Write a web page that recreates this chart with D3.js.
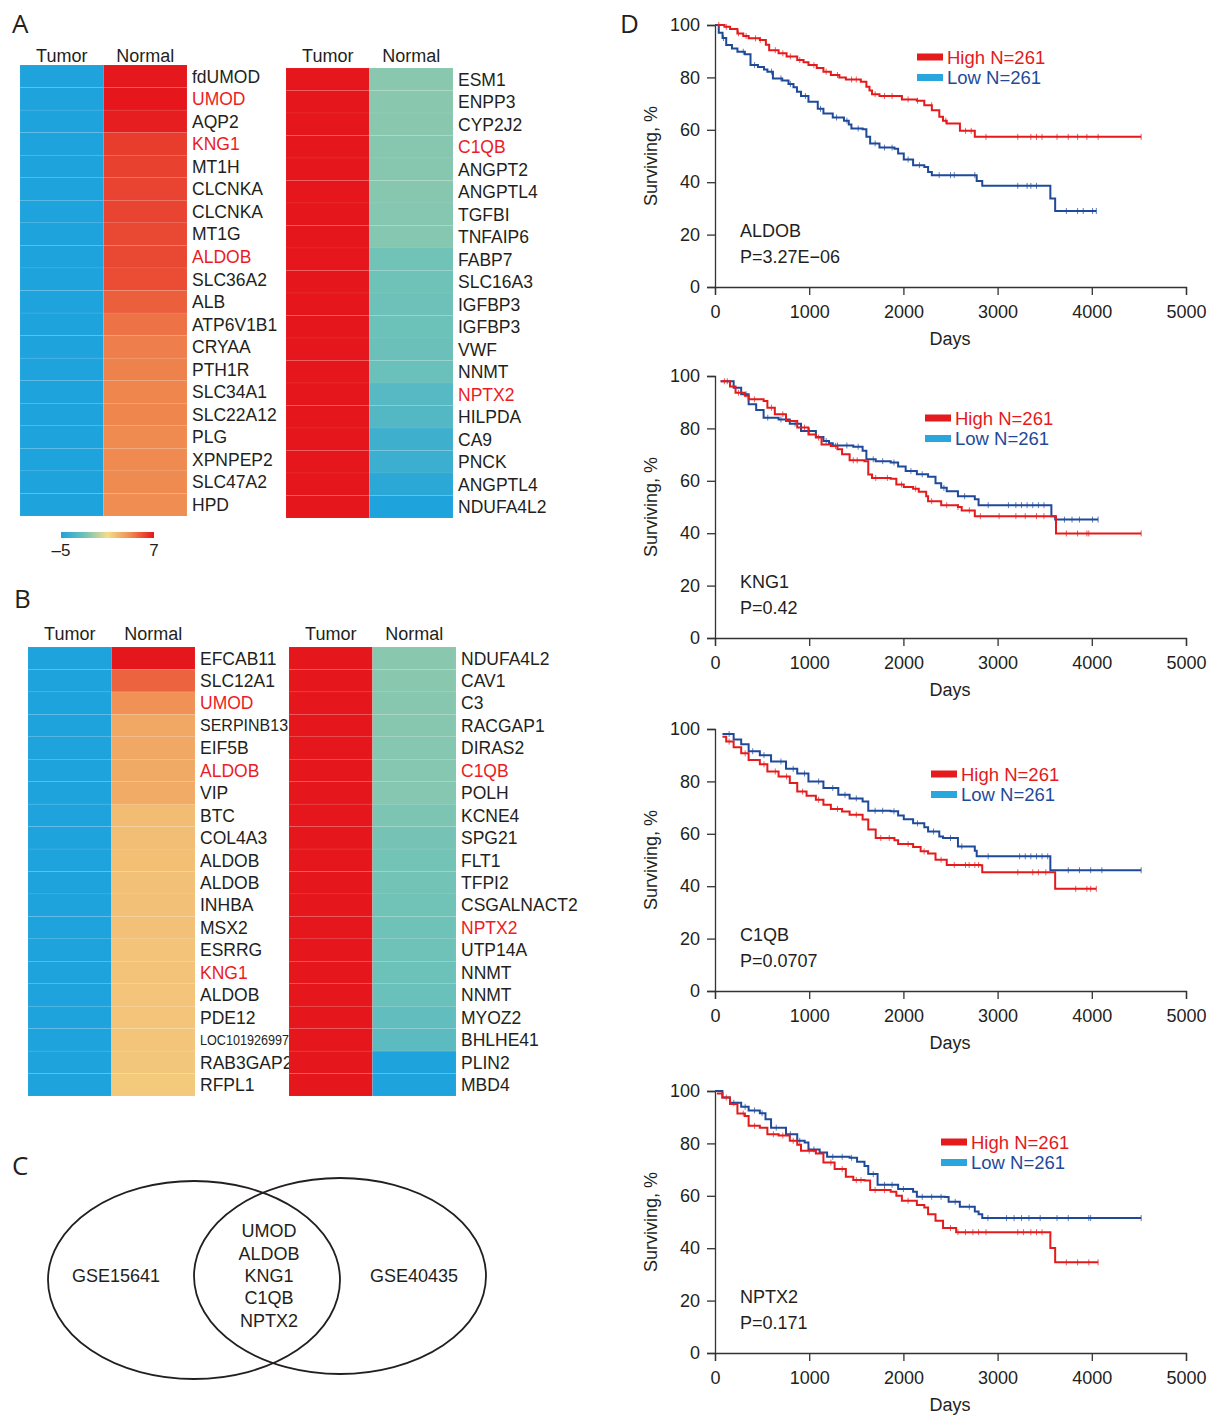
<!DOCTYPE html>
<html>
<head>
<meta charset="utf-8">
<script src="https://cdn.jsdelivr.net/npm/d3@7"></script>
<style>
  body { margin: 0; background: #fff; }
  svg { display: block; font-family: 'Liberation Sans', Arial, Helvetica, sans-serif; }
</style>
</head>
<body>
<svg id="fig" width="1215" height="1415"></svg>
<script>
// ---- heatmap data (log expression, colour scale -5..7) ----
const genesA1 = ['fdUMOD','UMOD','AQP2','KNG1','MT1H','CLCNKA','CLCNKA','MT1G','ALDOB','SLC36A2','ALB','ATP6V1B1','CRYAA','PTH1R','SLC34A1','SLC22A12','PLG','XPNPEP2','SLC47A2','HPD'];
const hiA1 = [1, 3, 8];
const tumorA1 = [-5,-5,-5,-5,-5,-5,-5,-5,-5,-5,-5,-5,-5,-5,-5,-5,-5,-5,-5,-5];
const normalA1 = [6.95,7,6.8,6.0,5.9,5.8,5.8,5.7,5.7,5.6,5.1,4.6,4.3,4.2,4.1,4.1,4.0,4.0,4.0,3.9];

const genesA2 = ['ESM1','ENPP3','CYP2J2','C1QB','ANGPT2','ANGPTL4','TGFBI','TNFAIP6','FABP7','SLC16A3','IGFBP3','IGFBP3','VWF','NNMT','NPTX2','HILPDA','CA9','PNCK','ANGPTL4','NDUFA4L2'];
const hiA2 = [3, 14];
const tumorA2 = [7,7,7,7,7,7,7,7,7,7,7,7,7,7,7,7,7,7,7,7];
const normalA2 = [-1.4,-1.4,-1.4,-1.45,-1.45,-1.45,-1.5,-1.5,-1.95,-2.0,-2.05,-2.1,-2.15,-2.2,-2.9,-3.0,-3.8,-3.9,-4.5,-5];

const genesB1 = ['EFCAB11','SLC12A1','UMOD','SERPINB13','EIF5B','ALDOB','VIP','BTC','COL4A3','ALDOB','ALDOB','INHBA','MSX2','ESRRG','KNG1','ALDOB','PDE12','LOC101926997','RAB3GAP2','RFPL1'];
const hiB1 = [2, 5, 14];
const tumorB1 = [-5,-5,-5,-5,-5,-5,-5,-5,-5,-5,-5,-5,-5,-5,-5,-5,-5,-5,-5,-5];
const normalB1 = [7,5.0,3.7,2.9,2.9,2.85,2.8,2.2,2.15,2.1,2.05,2.0,2.0,1.95,1.95,1.9,1.9,1.85,1.8,1.7];

const genesB2 = ['NDUFA4L2','CAV1','C3','RACGAP1','DIRAS2','C1QB','POLH','KCNE4','SPG21','FLT1','TFPI2','CSGALNACT2','NPTX2','UTP14A','NNMT','NNMT','MYOZ2','BHLHE41','PLIN2','MBD4'];
const hiB2 = [5, 12];
const tumorB2 = [7,7,7,7,7,7,7,7,7,7,7,7,7,7,7,7,7,7,7,7];
const normalB2 = [-1.4,-1.4,-1.45,-1.45,-1.5,-1.5,-1.5,-1.7,-1.85,-1.9,-1.9,-1.95,-2.0,-2.0,-2.1,-2.2,-2.5,-2.7,-5,-5];

const colorStops = [-5, -2, 1, 4, 7];
const colorRange = ['#1fa3dd', '#6fc2b8', '#f4dd8a', '#ef8a50', '#e5161c'];

// ---- venn ----
const vennSets = ['GSE15641', 'GSE40435'];
const vennShared = ['UMOD', 'ALDOB', 'KNG1', 'C1QB', 'NPTX2'];

// ---- Kaplan-Meier curves: [day, surviving %] steps ----
const kmGenes = ['ALDOB', 'KNG1', 'C1QB', 'NPTX2'];
const kmP = ['P=3.27E\u221206', 'P=0.42', 'P=0.0707', 'P=0.171'];
const kmN = ['High N=261', 'Low N=261'];
const dayTicks = [0, 1000, 2000, 3000, 4000, 5000];
const survTicks = [0, 20, 40, 60, 80, 100];

const aldobHigh = [[20,100],[100,99.3],[160,98.5],[238,96.8],[300,95.8],[357,94.9],[476,94.3],[540,92.5],[575,90.4],[675,89.2],[760,88],[873,86.6],[940,85.8],[992,84.7],[1080,83.6],[1151,82.2],[1230,80.9],[1320,80],[1389,79.2],[1548,78.3],[1607,76.4],[1640,75],[1667,73.6],[1746,72.9],[1984,71.6],[2143,71.1],[2222,69.4],[2302,67.5],[2381,65],[2420,63.5],[2460,62.4],[2600,59.6],[2758,57.3],[4524,57.3]];
const aldobLow = [[0,100],[40,97],[80,95],[119,92.4],[180,91],[238,89.8],[317,88.8],[377,84.7],[456,84],[520,83],[556,82.2],[615,79.6],[714,78.8],[780,77.5],[833,76.2],[870,74.5],[913,72.9],[992,70.7],[1091,68],[1151,66.2],[1250,64.7],[1369,63.5],[1420,62],[1448,60.5],[1567,60.2],[1607,57.3],[1647,54.8],[1746,53.2],[1905,52.8],[1944,51],[2004,48.7],[2103,46.5],[2222,45.8],[2262,43.9],[2302,42.7],[2758,42.7],[2778,40.5],[2837,38.6],[3552,38.6],[3560,33.8],[3611,29],[4048,29]];
const kng1High = [[60,98],[159,96],[218,93.6],[317,92.5],[357,91.1],[516,90.5],[556,87.9],[635,85.4],[754,82.8],[873,80.3],[992,77.7],[1071,76.5],[1131,73.9],[1230,73.3],[1300,72],[1349,70.1],[1429,67.8],[1587,67.5],[1627,62.4],[1667,61.1],[1865,60.8],[1925,58.6],[2004,57.6],[2103,57],[2163,55.8],[2242,54.1],[2262,52.2],[2401,50.7],[2579,50],[2619,48.7],[2758,46.5],[3611,46.5],[3620,39.9],[4524,39.9]];
const kng1Low = [[60,98],[198,95.5],[278,93],[357,89.2],[437,87],[516,84.1],[675,83.4],[794,81.8],[913,79],[1071,76.7],[1151,75.2],[1210,74.3],[1250,73.5],[1468,73],[1567,71.5],[1607,68.2],[1706,67.5],[1865,67],[1944,65.5],[2024,63.7],[2143,62.5],[2262,61.5],[2341,59.1],[2401,57.3],[2460,56],[2579,54.1],[2758,53],[2798,50.7],[3552,50.7],[3571,46.5],[3611,45.2],[4067,45.2]];
const c1qbHigh = [[79,97],[119,95.2],[198,93],[278,90.7],[357,88.2],[476,86.5],[556,83.8],[675,81.9],[794,79.4],[873,76.1],[972,74.5],[1071,73],[1151,71.1],[1230,69.5],[1349,68.5],[1429,67.3],[1567,65.5],[1627,61.6],[1706,58.4],[1905,57.5],[1944,56.1],[2103,55],[2183,53.3],[2262,52.5],[2341,50.1],[2460,48.1],[2817,48],[2837,45.3],[3591,45.3],[3611,39],[4048,39]];
const c1qbLow = [[79,98.1],[198,96],[278,94.2],[357,91.5],[476,90],[595,87.6],[754,84.8],[873,83],[992,80],[1151,77.5],[1309,74.9],[1429,73.5],[1567,72.3],[1627,68.8],[1865,68.6],[1944,67],[2004,65.6],[2103,64],[2222,62.5],[2262,60.9],[2381,59],[2421,58.4],[2579,55.2],[2758,53.5],[2778,51.4],[3552,51.4],[3560,46.1],[4524,46.1]];
const nptx2High = [[20,99],[79,97.5],[159,95],[238,91.4],[317,90.5],[357,86.7],[476,86],[556,83.5],[675,83],[794,81],[873,79.5],[913,77.2],[1071,76.1],[1151,72.7],[1270,70.2],[1389,67.3],[1468,66],[1587,65.8],[1647,62.2],[1865,61.5],[1925,60],[1984,58.1],[2143,56.5],[2222,55.5],[2262,53],[2341,50.5],[2421,47.7],[2560,46.1],[3552,46.1],[3560,40.1],[3611,34.6],[4067,34.6]];
const nptx2Low = [[0,100],[79,97.5],[159,95.5],[278,94],[357,92.6],[476,91.5],[536,89.2],[595,86],[754,83.5],[873,81],[952,80.3],[992,77.7],[1111,76.5],[1190,74.9],[1429,74.5],[1508,73],[1587,71.4],[1627,68.3],[1726,64.2],[1944,62.6],[2103,61.5],[2143,59.6],[2440,59.5],[2480,57.7],[2599,55.8],[2758,54],[2798,53],[2837,51.5],[4524,51.5]];

// censored days (the little + marks)
const aldobHighCens = [40,120,250,330,430,480,640,720,800,900,1050,1180,1300,1450,1500,1700,1800,1880,2050,2150,2300,2450,2660,2720,2877,3214,3353,3413,3472,3631,3750,3849,3948,4067,4524];
const aldobLowCens = [90,300,420,600,700,800,960,1120,1290,1400,1520,1700,1800,1880,2050,2170,2380,2500,2540,2758,3214,3313,3353,3413,3730,3849,3909,4008,4048];
const kng1HighCens = [100,250,420,600,720,950,1100,1280,1468,1510,1706,1830,1980,2130,2300,2460,2579,2700,2817,3016,3194,3294,3413,3492,3730,3849,3948,3968,4524];
const kng1LowCens = [130,330,560,700,850,1000,1180,1300,1400,1520,1680,1780,1900,2080,2200,2430,2650,2900,3115,3194,3254,3313,3373,3433,3492,3710,3790,3869,4008,4067];
const c1qbHighCens = [150,320,520,640,760,930,1100,1300,1500,1760,1850,2050,2220,2400,2540,2659,2698,2758,2798,3214,3373,3433,3512,3829,3948,3988,4048];
const c1qbLowCens = [150,400,520,700,830,950,1100,1250,1380,1500,1700,1780,1900,2150,2320,2500,2620,2900,3234,3294,3353,3413,3472,3532,3750,3869,3988,4107,4524];
const nptx2HighCens = [120,300,420,620,720,830,1000,1230,1350,1500,1550,1700,1800,2050,2500,2579,2659,2738,2798,2877,3214,3274,3353,3413,3472,3730,3849,3968,4067];
const nptx2LowCens = [200,320,420,500,650,800,900,1050,1250,1350,1450,1680,1800,1880,2000,2200,2300,2400,2550,2700,2897,3095,3175,3254,3333,3452,3631,3750,3968,3988,4524];

const RED = '#e41a1c', BLUE = '#1f4a9a', LIGHTBLUE = '#2aa6df', INK = '#231f20';

const svg = d3.select('#fig');
svg.append('rect').attr('width', 1215).attr('height', 1415).attr('fill', '#fff');

const heatColor = d3.scaleLinear().domain(colorStops).range(colorRange).clamp(true);

// panel letters
[['A', 12, 33], ['B', 14, 608], ['C', 12, 1175], ['D', 620, 33]].forEach(([t, x, y]) => {
  svg.append('text').attr('x', x).attr('y', y).text(t)
    .attr('font-family', "'Open Sans', 'Liberation Sans', sans-serif")
    .attr('font-weight', 400).attr('font-size', 26).attr('fill', INK);
});

function heatmap(x0, y0, y1, hdrY, genes, hi, tumor, normal) {
  const g = svg.append('g');
  const cols = ['Tumor', 'Normal'];
  const xb = d3.scaleBand().domain(cols).range([x0, x0 + 167]);
  const yb = d3.scaleBand().domain(d3.range(genes.length)).range([y0, y1]);
  g.selectAll('text.hdr').data(cols).enter().append('text')
    .attr('x', d => xb(d) + xb.bandwidth() / 2).attr('y', hdrY)
    .attr('text-anchor', 'middle').attr('font-size', 18).attr('fill', INK).text(d => d);
  [tumor, normal].forEach((vals, ci) => {
    g.selectAll(null).data(vals).enter().append('rect')
      .attr('x', xb(cols[ci])).attr('width', xb.bandwidth())
      .attr('y', (d, i) => yb(i)).attr('height', yb.bandwidth())
      .attr('fill', d => heatColor(d))
      .attr('stroke', '#fff').attr('stroke-opacity', 0.1).attr('stroke-width', 0.6);
  });
  g.selectAll(null).data(genes).enter().append('text')
    .attr('x', x0 + 172).attr('y', (d, i) => yb(i) + yb.bandwidth() / 2)
    .attr('dy', '0.36em').attr('fill', (d, i) => hi.includes(i) ? '#ec1c24' : INK)
    .attr('font-size', d => d === 'SERPINB13' ? 16 : 17.5)
    .each(function (d) {
      if (d.length > 10 && d.startsWith('LOC')) {
        d3.select(this).attr('font-size', 14).attr('textLength', 89).attr('lengthAdjust', 'spacingAndGlyphs');
      }
    })
    .text(d => d);
}

heatmap(20, 65, 516, 62, genesA1, hiA1, tumorA1, normalA1);
heatmap(286, 68, 518, 62, genesA2, hiA2, tumorA2, normalA2);
heatmap(28, 647, 1096, 640, genesB1, hiB1, tumorB1, normalB1);
heatmap(289, 647, 1096, 640, genesB2, hiB2, tumorB2, normalB2);

// colour bar
const defs = svg.append('defs');
const grad = defs.append('linearGradient').attr('id', 'cbar');
colorStops.forEach((v, i) => {
  grad.append('stop').attr('offset', (v + 5) / 12).attr('stop-color', colorRange[i]);
});
const cbx = d3.scaleLinear().domain([-5, 7]).range([61, 154]);
svg.append('rect').attr('x', cbx(-5)).attr('y', 532).attr('width', cbx(7) - cbx(-5)).attr('height', 6)
  .attr('fill', 'url(#cbar)');
[-5, 7].forEach(v => {
  svg.append('text').attr('x', cbx(v)).attr('y', 556).attr('text-anchor', 'middle')
    .attr('font-size', 17).attr('fill', INK).text(v < 0 ? '\u2013' + Math.abs(v) : v);
});

// venn
const venn = svg.append('g');
venn.append('ellipse').attr('cx', 194).attr('cy', 1280).attr('rx', 146).attr('ry', 99)
  .attr('fill', 'none').attr('stroke', INK).attr('stroke-width', 1.8);
venn.append('ellipse').attr('cx', 340).attr('cy', 1276).attr('rx', 146).attr('ry', 98)
  .attr('fill', 'none').attr('stroke', INK).attr('stroke-width', 1.8);
venn.append('text').attr('x', 116).attr('y', 1276).attr('dy', '0.36em').attr('text-anchor', 'middle')
  .attr('font-size', 18).attr('fill', INK).text(vennSets[0]);
venn.append('text').attr('x', 414).attr('y', 1276).attr('dy', '0.36em').attr('text-anchor', 'middle')
  .attr('font-size', 18).attr('fill', INK).text(vennSets[1]);
venn.selectAll(null).data(vennShared).enter().append('text')
  .attr('x', 269).attr('y', (d, i) => 1231 + i * 22.3).attr('dy', '0.36em')
  .attr('text-anchor', 'middle').attr('font-size', 18).attr('fill', INK).text(d => d);

// Kaplan-Meier plots
const kmPlots = [
  { top: 25, high: aldobHigh, low: aldobLow, highC: aldobHighCens, lowC: aldobLowCens, leg: [917, 57] },
  { top: 376, high: kng1High, low: kng1Low, highC: kng1HighCens, lowC: kng1LowCens, leg: [925, 418] },
  { top: 729, high: c1qbHigh, low: c1qbLow, highC: c1qbHighCens, lowC: c1qbLowCens, leg: [931, 774] },
  { top: 1091, high: nptx2High, low: nptx2Low, highC: nptx2HighCens, lowC: nptx2LowCens, leg: [941, 1142] }
];

const x = d3.scaleLinear().domain([0, 5000]).range([715, 1186]);
const bis = d3.bisector(d => d[0]).right;

kmPlots.forEach((p, k) => {
  const y = d3.scaleLinear().domain([0, 100]).range([p.top + 262, p.top]);
  const g = svg.append('g');

  const xa = g.append('g').attr('transform', `translate(0,${y(0)})`)
    .call(d3.axisBottom(x).tickValues(dayTicks).tickSize(8).tickPadding(10).tickFormat(d3.format('d')));
  const ya = g.append('g').attr('transform', `translate(${x(0)},0)`)
    .call(d3.axisLeft(y).tickValues(survTicks).tickSize(8).tickPadding(7));
  [xa, ya].forEach(a => {
    a.selectAll('path, line').attr('stroke', '#333').attr('stroke-width', 1.3);
    a.selectAll('text').attr('font-size', 18).attr('fill', INK)
      .attr('font-family', "'Liberation Sans', Arial, sans-serif");
  });

  g.append('text').attr('x', 950).attr('y', y(0) + 58).attr('text-anchor', 'middle')
    .attr('font-size', 18).attr('fill', INK).text('Days');
  g.append('text').attr('transform', `translate(657,${(y(0) + y(100)) / 2}) rotate(-90)`)
    .attr('text-anchor', 'middle').attr('font-size', 18).attr('fill', INK).text('Surviving, %');

  const line = d3.line().x(d => x(d[0])).y(d => y(d[1])).curve(d3.curveStepAfter);
  const series = [[p.low, p.lowC, BLUE], [p.high, p.highC, RED]];
  series.forEach(([pts, cens, col]) => {
    g.append('path').datum(pts).attr('d', line).attr('fill', 'none')
      .attr('stroke', col).attr('stroke-width', 2);
    g.selectAll(null).data(cens).enter().append('line')
      .attr('x1', d => x(d)).attr('x2', d => x(d))
      .attr('y1', d => y(pts[Math.max(0, bis(pts, d) - 1)][1]) - 3)
      .attr('y2', d => y(pts[Math.max(0, bis(pts, d) - 1)][1]) + 3)
      .attr('stroke', col).attr('stroke-width', 0.9).attr('stroke-opacity', 0.8);
  });

  // legend
  const [lx, ly] = p.leg;
  [[RED, RED], [LIGHTBLUE, BLUE]].forEach(([bar, txt], i) => {
    g.append('rect').attr('x', lx).attr('y', ly + i * 20.5 - 3.5).attr('width', 26).attr('height', 7).attr('fill', bar);
    g.append('text').attr('x', lx + 30).attr('y', ly + i * 20.5).attr('dy', '0.36em')
      .attr('font-size', 18.5).attr('fill', txt).text(kmN[i]);
  });

  g.append('text').attr('x', 740).attr('y', p.top + 206).attr('dy', '0.36em')
    .attr('font-size', 18).attr('fill', INK).text(kmGenes[k]);
  g.append('text').attr('x', 740).attr('y', p.top + 232).attr('dy', '0.36em')
    .attr('font-size', 18).attr('fill', INK).text(kmP[k]);
});
</script>
</body>
</html>
